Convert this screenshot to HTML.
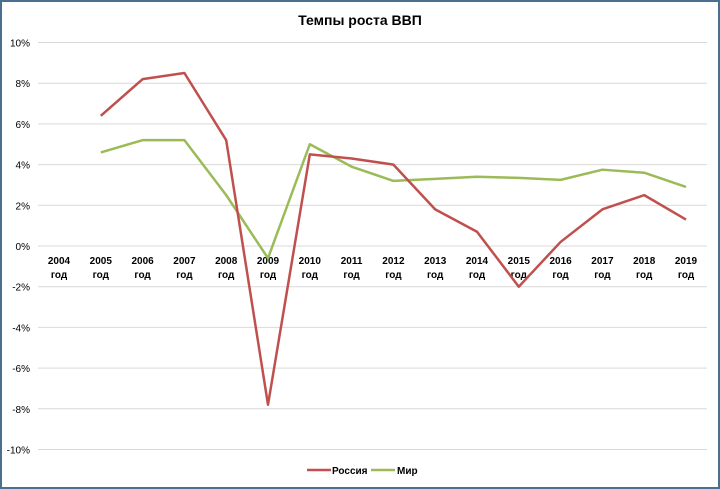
<!DOCTYPE html>
<html><head><meta charset="utf-8"><style>
body{margin:0;background:#fff}
svg{display:block;font-family:"Liberation Sans",sans-serif}
</style></head><body>
<svg id="c" width="720" height="489" viewBox="0 0 720 489">
<rect x="1" y="1" width="718" height="487" fill="#fff" stroke="#4a6f8f" stroke-width="2"/>
<text x="360" y="25" text-anchor="middle" font-size="14" font-weight="bold" fill="#000">Темпы роста ВВП</text>
<g id="grid"></g><g id="yt"></g><g id="xt"></g><g id="lines"></g>
<g>
<line x1="307" y1="470" x2="331" y2="470" stroke="#c0504d" stroke-width="2.5"/>
<text x="332" y="474" font-size="10" font-weight="bold">Россия</text>
<line x1="371" y1="470" x2="395" y2="470" stroke="#9bbb59" stroke-width="2.5"/>
<text x="397" y="474" font-size="10" font-weight="bold">Мир</text>
</g>
</svg>
<script>
const years=["2004","2005","2006","2007","2008","2009","2010","2011","2012","2013","2014","2015","2016","2017","2018","2019"];
const russia=[null,6.4,8.2,8.5,5.2,-7.8,4.5,4.3,4.0,1.8,0.7,-2.0,0.2,1.8,2.5,1.3];
const world=[null,4.6,5.2,5.2,2.5,-0.6,5.0,3.9,3.2,3.3,3.4,3.35,3.25,3.75,3.6,2.9];
const yTicks=[10,8,6,4,2,0,-2,-4,-6,-8,-10];
const NS="http://www.w3.org/2000/svg";
const y=v=>246-v*20.35;
const x=i=>59+i*41.8;
function mk(t,a,p){const e=document.createElementNS(NS,t);for(const k in a)e.setAttribute(k,a[k]);document.getElementById(p).appendChild(e);return e;}
yTicks.forEach(v=>{
const g=mk("line",{x1:38,x2:707,y1:y(v),y2:y(v),stroke:"#d9d9d9","stroke-width":1},"grid");


const t=mk("text",{x:30,y:y(v)+4,"text-anchor":"end","font-size":10},"yt");
t.textContent=v+"%";


});
years.forEach((yr,i)=>{
const t=mk("text",{x:x(i),y:264,"text-anchor":"middle","font-size":10,"font-weight":"bold"},"xt");


const a=document.createElementNS(NS,"tspan");a.setAttribute("x",x(i));a.textContent=yr;t.appendChild(a);
const b=document.createElementNS(NS,"tspan");b.setAttribute("x",x(i));b.setAttribute("dy","14");b.textContent="год";t.appendChild(b);
});
function series(d,c,n){
const pts=[];d.forEach((v,i)=>{if(v!==null)pts.push(x(i)+","+y(v));});
const p=mk("polyline",{points:pts.join(" "),fill:"none",stroke:c,"stroke-width":2.5,"stroke-linejoin":"round"},"lines");


}
series(world,"#9bbb59","world-line");
series(russia,"#c0504d","russia-line");
</script>
</body></html>
